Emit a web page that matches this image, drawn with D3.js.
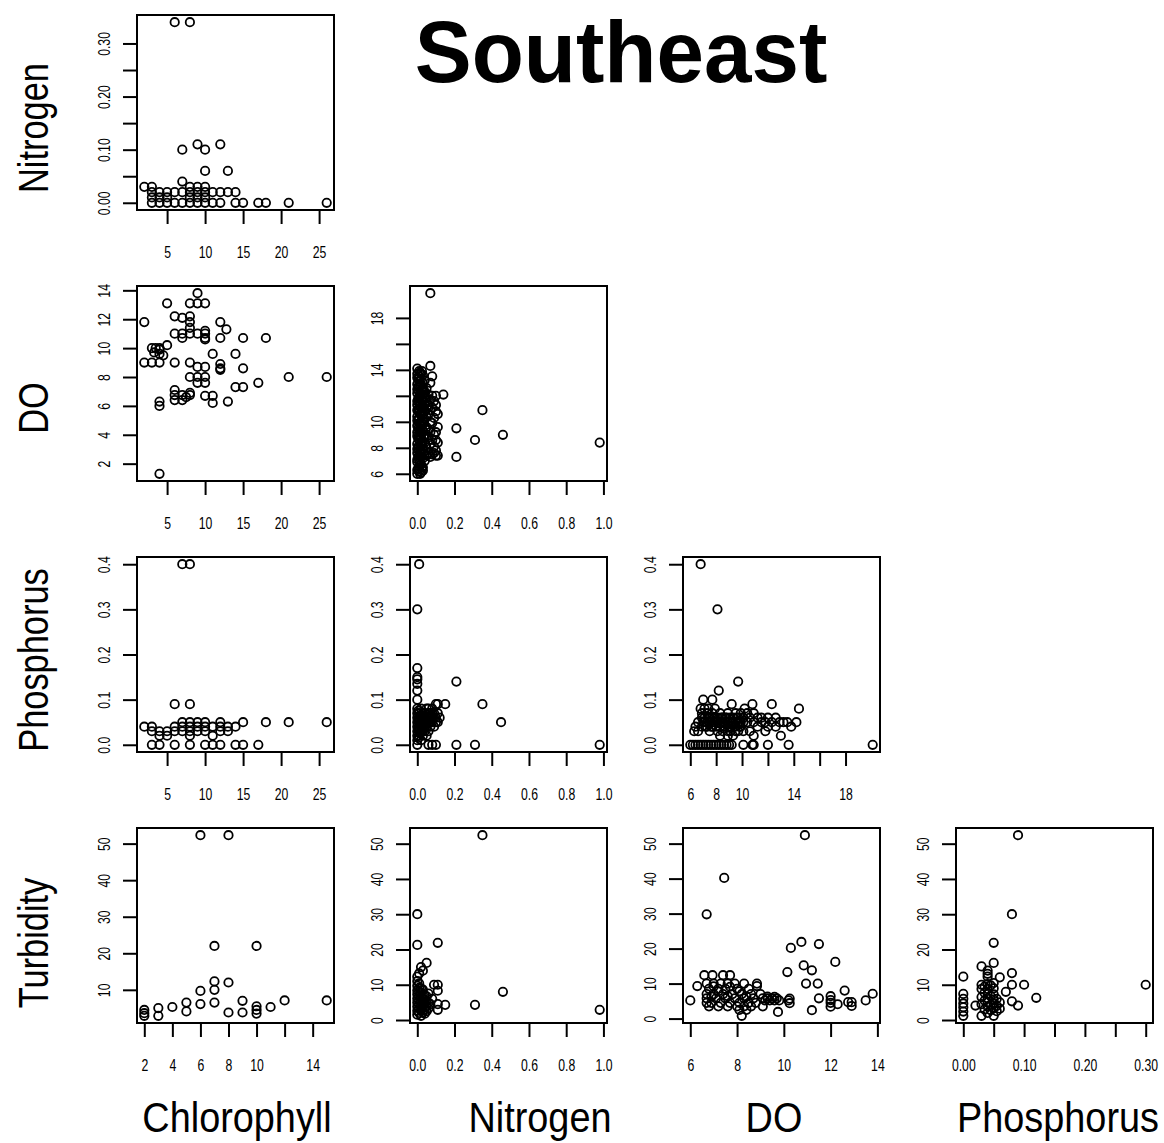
<!DOCTYPE html>
<html><head><meta charset="utf-8">
<script src="https://cdn.jsdelivr.net/npm/d3@7"></script>
<style>body{margin:0;background:#fff}svg{display:block}</style>
</head><body>
<svg id="chart" width="1164" height="1143"></svg>
<script>
// ---- Water quality, Southeast region: pairwise observations ----
const variables = ["Chlorophyll", "Nitrogen", "DO", "Phosphorus", "Turbidity"];

// Nitrogen (y) against Chlorophyll (x)
const nitrogenChlorophyll = [
  [6,0.34],[8,0.34],[7,0.10],[9,0.11],[10,0.10],[12,0.11],[10,0.06],[13,0.06],[7,0.04],
  [2,0.03],[3,0.03],[3,0.02],[4,0.02],[4,0.01],[3,0.01],[5,0.01],[5,0.02],[6,0.02],[7,0.02],
  [8,0.02],[8,0.03],[9,0.03],[9,0.02],[10,0.03],[10,0.02],[11,0.02],[12,0.02],[13,0.02],[14,0.02],
  [8,0.01],[9,0.01],[10,0.01],
  [3,0],[4,0],[5,0],[6,0],[7,0],[8,0],[9,0],[10,0],[11,0],[12,0],[14,0],[15,0],[17,0],[18,0],[21,0],[26,0]
];

// DO (y) against Chlorophyll (x)
const doChlorophyll = [
  [9,13.8],[5,13.1],[8,13.1],[9,13.1],[10,13.1],
  [2,11.8],[6,12.2],[7,12.1],[8,12.2],[8,11.8],[8,11.4],[12,11.8],[12.8,11.3],[12,10.7],[15,10.7],[18,10.7],
  [6,11.0],[7,11.0],[7,10.7],[8,11.0],[9,11.0],[10,11.2],[10,11.0],[10,10.7],[10,10.6],
  [3,10.0],[3.5,10.0],[4,10.0],[3.3,9.7],[4,9.6],[4,9.9],[5,10.2],[4.5,9.5],
  [2,9.0],[3,9.0],[4,9.0],[6,9.0],[8,9.0],[9,8.7],[10,8.7],[11,9.6],[12,8.9],[12,8.6],[12,8.5],[14,9.6],[15,8.6],
  [8,8.0],[9,8.0],[10,8.0],[9,7.6],[10,7.6],[14,7.3],[15,7.3],[17,7.6],[21,8.0],[26,8.0],
  [6,7.1],[6,6.75],[6,6.4],[7,6.75],[7,6.4],[7.5,6.6],[8,6.75],[8,6.9],[10,6.7],[11,6.7],[11,6.2],[13,6.3],
  [4,6.3],[4,6.0],[4,1.3]
];

// DO (y) against Nitrogen (x): readings grouped by nitrogen value, then scattered extras
const doNitrogenGroups = [
  [0.000,[6.0,6.3,6.9,7.1,7.6,7.9,8.3,8.9,9.2,9.7,10.1,10.4,10.9,11.3,11.6,12.2,12.5,12.9,13.4,13.7,14.1]],
  [0.005,[6.4,7.3,8.1,8.7,9.5,10.2,11.0,11.8,12.7,13.3]],
  [0.010,[6.2,6.6,7.0,7.4,7.8,8.1,8.6,9.0,9.4,9.9,10.3,10.7,11.0,11.5,11.9,12.3,12.7,13.1,13.5,13.9]],
  [0.015,[6.0,6.9,7.6,8.4,9.2,9.9,10.6,11.4,12.1,12.9,13.8]],
  [0.020,[6.1,6.7,7.3,7.7,8.2,8.7,9.1,9.5,10.0,10.6,11.1,11.4,11.8,12.4,12.8,13.3,13.7]],
  [0.025,[6.5,7.5,8.3,9.1,9.9,10.8,11.6,12.5,13.9]],
  [0.030,[6.25,6.5,7.2,7.9,8.5,9.3,9.8,10.5,11.2,11.7,12.1,12.6,13.0,13.6]],
  [0.035,[7.7,8.8,10.0,11.0,12.4]],
  [0.040,[7.0,7.5,8.4,9.0,10.2,10.8,11.5,12.3,13.2]],
  [0.045,[8.2,9.4,11.8]],
  [0.050,[7.4,8.0,8.9,9.6,10.4,11.0,11.9,12.6]],
  [0.060,[7.6,8.8,9.4,10.6,11.3,12.1]],
  [0.070,[7.3,8.3,9.2,10.0,10.9,11.7,13.0,14.3,19.9]],
  [0.080,[7.5,8.6,9.9,11.1,12.0,13.5]],
  [0.090,[7.6,8.1,9.0,10.3,11.6]],
  [0.100,[7.4,7.8,8.6,9.2,10.8,11.3,12.0]],
  [0.110,[7.4,8.4,9.6,10.6]]
];
const doNitrogenExtra = [[0.14,12.1],[0.35,10.9],[0.21,9.5],[0.46,9.0],[0.31,8.6],[0.21,7.3],[0.98,8.4]];

// Phosphorus (y) against Chlorophyll (x)
const phosphorusChlorophyll = [
  [7,0.40],[8,0.40],[6,0.09],[8,0.09],
  [7,0.05],[8,0.05],[9,0.05],[10,0.05],[12,0.05],[15,0.05],[18,0.05],[21,0.05],[26,0.05],
  [2,0.04],[3,0.04],[6,0.04],[7,0.04],[8,0.04],[9,0.04],[10,0.04],[11,0.04],[12,0.04],[13,0.04],[14,0.04],
  [3,0.03],[4,0.03],[5,0.03],[6,0.03],[7,0.03],[8,0.03],[9,0.03],[10,0.03],[12,0.03],[13,0.03],
  [4,0.02],[5,0.02],[8,0.02],[11,0.02],
  [3,0],[4,0],[6,0],[8,0],[10,0],[11,0],[12,0],[14,0],[15,0],[17,0]
];

// Phosphorus (y) against Nitrogen (x)
const phosphorusNitrogenGroups = [
  [0.000,[0,0.01,0.02,0.03,0.04,0.05,0.06,0.07,0.08,0.10,0.12,0.135,0.145,0.15,0.17,0.30]],
  [0.005,[0.015,0.035,0.055,0.075]],
  [0.010,[0.02,0.03,0.04,0.05,0.06,0.07,0.40]],
  [0.015,[0.025,0.045,0.065]],
  [0.020,[0.01,0.03,0.04,0.05,0.06,0.08]],
  [0.030,[0.02,0.03,0.04,0.05,0.06,0.07]],
  [0.040,[0.03,0.04,0.05,0.06,0.07]],
  [0.050,[0.02,0.04,0.05,0.06,0.08]],
  [0.060,[0,0.03,0.05,0.06,0.07,0.08]],
  [0.070,[0.04,0.05,0.06,0.07]],
  [0.080,[0,0.05,0.06,0.07,0.08]],
  [0.090,[0.04,0.06,0.07]],
  [0.100,[0,0.05,0.06,0.09]],
  [0.110,[0.05,0.07,0.09]],
  [0.120,[0.06]]
];
const phosphorusNitrogenExtra = [[0.15,0.09],[0.21,0.14],[0.35,0.09],[0.45,0.05],[0.21,0],[0.31,0],[0.98,0]];

// Phosphorus (y) against DO (x)
const phosphorusDOGroups = [
  [6.0,[0]],[6.2,[0]],[6.3,[0.03]],[6.4,[0,0.04]],[6.6,[0,0.03,0.05]],[6.8,[0,0.08,0.40]],
  [6.9,[0.04,0.06,0.07]],[7.0,[0,0.10,0.05]],[7.1,[0.05,0.06,0.08]],[7.2,[0,0.04]],[7.3,[0.04,0.05,0.07]],
  [7.4,[0,0.08,0.06]],[7.5,[0.03,0.05,0.06]],[7.6,[0,0.04]],[7.7,[0.04,0.06,0.07,0.10]],[7.8,[0,0.05]],
  [7.9,[0.05,0.06,0.08]],[8.0,[0,0.04]],[8.1,[0.03,0.05,0.06,0.30]],[8.2,[0,0.12]],[8.3,[0.02,0.04,0.05,0.07]],
  [8.4,[0,0.06]],[8.5,[0.03,0.05,0.06]],[8.6,[0,0.04]],[8.7,[0.04,0.05,0.06]],[8.8,[0,0.06]],[8.9,[0.02,0.03,0.05,0.07]],
  [9.0,[0,0.04]],[9.1,[0.03,0.04,0.06]],[9.2,[0,0.09,0.05]],[9.3,[0.02,0.05,0.06]],[9.4,[0.04]],[9.5,[0.03,0.04,0.05,0.07]],
  [9.6,[0.06]],[9.7,[0.03,0.05,0.06,0.14]],[9.8,[0.04]],[9.9,[0.04,0.05,0.07]],[10.1,[0,0.03,0.05,0.06]],[10.2,[0.08]],
  [10.4,[0.05,0.07]],[10.6,[0.03,0.06]],[10.8,[0,0.09]],[10.9,[0,0.02,0.05,0.07]],[11.2,[0.04,0.06]],
  [11.5,[0.05,0.06]],[11.8,[0.03,0.05]],[12.0,[0,0.04,0.06]],[12.3,[0.05,0.09]],[12.6,[0.04,0.06]],
  [12.9,[0.05]],[13.0,[0.02]],[13.2,[0.05]],[13.5,[0.05]],[13.6,[0]],[13.8,[0.04]],[14.2,[0.05]],
  [14.4,[0.08]],[20.1,[0]]
];

// Turbidity (y) against Chlorophyll (x)
const turbidityChlorophyll = [
  [6,52.3],[8,52.3],[7,22],[10,22],[7,12.3],[7,10],[7,6.5],[8,12],[6,9.7],[6,6.1],[5,6.5],[5,4.1],
  [4,5.3],[3,5.0],[3,2.9],[2,4.5],[2,3.6],[2,2.9],[8,3.8],[9,7.0],[9,3.8],[10,5.5],[10,4.5],[10,3.5],
  [11,5.3],[12,7.1],[15,7.1]
];

// Turbidity (y) against Nitrogen (x)
const turbidityNitrogenGroups = [
  [0.00,[1.5,2.6,3.8,5.0,6.1,7.3,8.4,9.7,11.0,12.3,21.3,30]],
  [0.01,[2.0,3.2,4.4,5.6,6.8,8.0,9.1,10.4,13.2]],
  [0.02,[1.2,2.8,4.0,5.3,6.5,7.7,9.0,15]],
  [0.03,[2.2,3.5,4.8,6.0,7.2,8.6,14]],
  [0.04,[1.8,3.0,4.6,5.8,7.0]],
  [0.05,[2.5,3.9,5.2,6.7,16.2]],
  [0.06,[3.3,4.9,7.5]],
  [0.07,[4.5]],[0.08,[6]],[0.09,[10]],[0.11,[2.9,4.5,8.3,10,21.9]],[0.15,[4.3]]
];
const turbidityNitrogenExtra = [[0.35,52.4],[0.46,8.0],[0.31,4.3],[0.98,2.9]];

// Turbidity (y) against DO (x)
const turbidityDO = [
  [10.9,52.4],[7.45,40.2],[6.7,29.8],[10.3,20.2],[10.75,21.9],[11.5,21.3],[12.2,16.2],[10.85,15.2],
  [11.2,13.8],[10.15,13.3],[10.95,10],[11.45,10],[12.6,8.0],[11.5,5.8],[12,6.4],[12,5.3],[12,4.5],[12,3.4],
  [12.3,4.1],[12.75,4.7],[12.9,4.7],[12.9,3.6],[13.5,5.2],[13.8,7.1],[11.2,2.4],[10.25,5.7],[10.25,4.4],
  [9.75,1.9],[6.0,5.2],[6.3,9.3],[8.2,0.8],
  [6.6,12.4],[6.95,12.4],[7.4,12.4],[7.7,12.4],
  [6.7,10],[7.0,10],[7.3,10],[7.6,10],[7.9,10],[8.3,10],[8.85,10],[8.85,9.3],
  [6.8,8.5],[7.2,8.5],[7.5,8.5],[8.0,8.5],[8.5,8.5],[7.0,9.2],[7.7,9.1],[8.1,7.8],
  [6.7,7],[7.0,7],[7.4,7],[7.8,7],[8.2,7],[8.6,7],[9.0,7],[7.2,7.8],[6.9,6.3],[7.6,6.4],[8.4,6.3],
  [6.7,5.8],[7.1,5.8],[7.5,5.8],[7.9,5.8],[8.3,5.8],[8.7,5.8],[9.1,5.8],[9.3,5.8],[9.5,5.8],[9.7,5.8],
  [9.2,5.2],[9.4,5.2],[9.6,5.2],[9.8,5.2],[10.2,5.2],[9.3,6.3],[9.6,6.2],
  [6.7,4.5],[6.9,4.5],[7.3,4.5],[7.7,4.5],[8.1,4.5],[8.5,4.5],[8.8,4.5],
  [6.8,3.5],[7.2,3.5],[7.6,3.5],[8.0,3.5],[8.3,3.5],[8.6,3.5],[9.1,3.5],
  [8.1,2.5],[8.4,2.5]
];

// Turbidity (y) against Phosphorus (x)
const turbidityPhosphorusGroups = [
  [0.000,[1.2,2.4,3.6,4.7,6.0,7.4,12.3]],
  [0.020,[4.1]],
  [0.030,[1.2,4.5,6.5,8.8,10.0,15.2]],
  [0.035,[3.0,5.5,7.7,9.5]],
  [0.040,[2.0,3.8,5.0,6.2,7.5,8.8,10.2,12.3,13.1,14.0]],
  [0.045,[2.8,4.3,6.8,9.8]],
  [0.050,[1.2,3.3,4.6,5.8,7.3,9.0,10.5,16.2,21.9]],
  [0.055,[2.5,4.0,6.0]],
  [0.060,[3.2,5.0,12.1]],
  [0.070,[8.0]],
  [0.080,[5.3,10.0,13.3,30.0]],
  [0.090,[4.1,52.4]],
  [0.100,[10.0]],
  [0.120,[6.3]],
  [0.300,[10.0]]
];

// Axis ticks (blank label = tick drawn without text)
const chlTicks = [5,10,15,20,25], chlLabels = ["5","10","15","20","25"];
const chlTicksT = [2,4,6,8,10,12,14], chlLabelsT = ["2","4","6","8","10","","14"];
const nitTicksX = [0,0.2,0.4,0.6,0.8,1.0], nitLabelsX = ["0.0","0.2","0.4","0.6","0.8","1.0"];
const doTicksX = [6,8,10,12,14,16,18], doLabelsX = ["6","8","10","","14","","18"];
const doTicksXT = [6,8,10,12,14], doLabelsXT = ["6","8","10","12","14"];
const phTicksX = [0,0.05,0.10,0.15,0.20,0.25,0.30], phLabelsX = ["0.00","","0.10","","0.20","","0.30"];
const nitTicksY = [0,0.05,0.10,0.15,0.20,0.25,0.30], nitLabelsY = ["0.00","","0.10","","0.20","","0.30"];
const doTicksY1 = [2,4,6,8,10,12,14], doLabelsY1 = ["2","4","6","8","10","12","14"];
const doTicksY2 = [6,8,10,12,14,16,18], doLabelsY2 = ["6","8","10","","14","","18"];
const phTicksY = [0,0.1,0.2,0.3,0.4], phLabelsY = ["0.0","0.1","0.2","0.3","0.4"];
const turbTicksY1 = [10,20,30,40,50], turbLabelsY1 = ["10","20","30","40","50"];
const turbTicksY = [0,10,20,30,40,50], turbLabelsY = ["0","10","20","30","40","50"];

// ---- helpers ----
const expand = (groups) => groups.flatMap(([x, ys]) => ys.map(y => [x, y]));

const panels = [
  {r:0,c:0,pts:nitrogenChlorophyll, xt:[chlTicks,chlLabels], yt:[nitTicksY,nitLabelsY]},
  {r:1,c:0,pts:doChlorophyll, xt:[chlTicks,chlLabels], yt:[doTicksY1,doLabelsY1]},
  {r:1,c:1,pts:expand(doNitrogenGroups).concat(doNitrogenExtra), xt:[nitTicksX,nitLabelsX], yt:[doTicksY2,doLabelsY2]},
  {r:2,c:0,pts:phosphorusChlorophyll, xt:[chlTicks,chlLabels], yt:[phTicksY,phLabelsY]},
  {r:2,c:1,pts:expand(phosphorusNitrogenGroups).concat(phosphorusNitrogenExtra), xt:[nitTicksX,nitLabelsX], yt:[phTicksY,phLabelsY]},
  {r:2,c:2,pts:expand(phosphorusDOGroups), xt:[doTicksX,doLabelsX], yt:[phTicksY,phLabelsY]},
  {r:3,c:0,pts:turbidityChlorophyll, xt:[chlTicksT,chlLabelsT], yt:[turbTicksY1,turbLabelsY1]},
  {r:3,c:1,pts:expand(turbidityNitrogenGroups).concat(turbidityNitrogenExtra), xt:[nitTicksX,nitLabelsX], yt:[turbTicksY,turbLabelsY]},
  {r:3,c:2,pts:turbidityDO, xt:[doTicksXT,doLabelsXT], yt:[turbTicksY,turbLabelsY]},
  {r:3,c:3,pts:expand(turbidityPhosphorusGroups), xt:[phTicksX,phLabelsX], yt:[turbTicksY,turbLabelsY]}
];

// layout
const colLeft = [137, 410, 683, 956], colW = 197;
const rowTop = [15, 286, 557, 828], rowH = 195;
const tickFont = 17, tickSqueeze = 0.72;
const font = "Liberation Sans, Arial, sans-serif";

// padded domain, 4% on each side
function padded(vals) {
  const [a, b] = d3.extent(vals);
  const p = (b - a) * 0.04;
  return [a - p, b + p];
}

const svg = d3.select("#chart");
svg.append("rect").attr("width", 1164).attr("height", 1143).attr("fill", "#fff");

panels.forEach(P => {
  const x0 = colLeft[P.c], y0 = rowTop[P.r];
  const g = svg.append("g").attr("transform", `translate(${x0},${y0})`);
  const x = d3.scaleLinear().domain(padded(P.pts.map(d => d[0]))).range([0, colW]);
  const y = d3.scaleLinear().domain(padded(P.pts.map(d => d[1]))).range([rowH, 0]);

  // x axis
  const [xtv, xtl] = P.xt;
  const xa = g.append("g").attr("transform", `translate(0,${rowH})`)
    .call(d3.axisBottom(x).tickValues(xtv).tickSize(14).tickFormat((d, i) => xtl[i]));
  xa.select(".domain").remove();
  xa.selectAll("line").attr("stroke", "#000").attr("stroke-width", 2);
  xa.selectAll("text")
    .attr("y", 0).attr("dy", 0)
    .attr("transform", `translate(0,48) scale(${tickSqueeze},1)`)
    .attr("font-family", font)
    .attr("font-size", tickFont).attr("fill", "#000");

  // y axis
  const [ytv, ytl] = P.yt;
  const ya = g.append("g")
    .call(d3.axisLeft(y).tickValues(ytv).tickSize(14).tickFormat((d, i) => ytl[i]));
  ya.select(".domain").remove();
  ya.selectAll("line").attr("stroke", "#000").attr("stroke-width", 2);
  ya.selectAll("text")
    .attr("x", 0).attr("dy", 0)
    .attr("text-anchor", "middle")
    .attr("transform", `translate(-27,0) rotate(-90) scale(${tickSqueeze},1)`)
    .attr("font-family", font)
    .attr("font-size", tickFont).attr("fill", "#000");

  // frame
  g.append("rect").attr("width", colW).attr("height", rowH)
    .attr("fill", "none").attr("stroke", "#000").attr("stroke-width", 2);

  // points
  g.append("g").selectAll("circle").data(P.pts).join("circle")
    .attr("cx", d => x(d[0])).attr("cy", d => y(d[1])).attr("r", 4.2)
    .attr("fill", "none").attr("stroke", "#000").attr("stroke-width", 1.8);
});

// text helper: squeezed along its own direction
function label(txt, px, py, size, squeeze, rot, weight) {
  svg.append("g").attr("transform", `translate(${px},${py}) rotate(${rot})`)
    .append("text").attr("transform", `scale(${squeeze},1)`)
    .attr("text-anchor", "middle")
    .attr("font-family", font)
    .attr("font-size", size).attr("font-weight", weight || "normal")
    .attr("fill", "#000").text(txt);
}

// title
label("Southeast", 621, 82, 88, 0.97, 0, "bold");

// column titles
const colTitleX = [237, 540, 774, 1058];
["Chlorophyll", "Nitrogen", "DO", "Phosphorus"].forEach((t, i) => label(t, colTitleX[i], 1132, 43, 0.88, 0));

// row titles
const rowTitleY = [128, 408, 660, 943];
["Nitrogen", "DO", "Phosphorus", "Turbidity"].forEach((t, i) => label(t, 48, rowTitleY[i], 43, 0.8, -90));
</script>
</body></html>
